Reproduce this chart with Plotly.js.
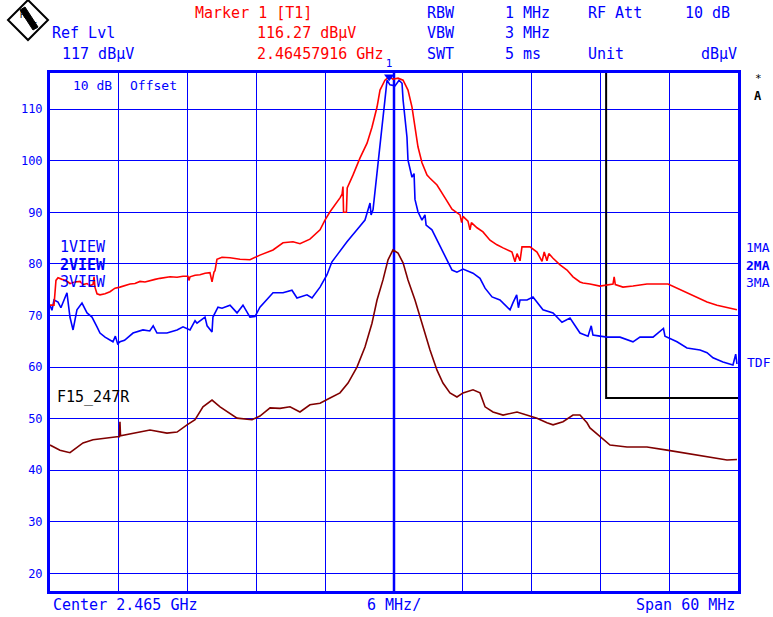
<!DOCTYPE html>
<html><head><meta charset="utf-8">
<script src="https://cdn.plot.ly/plotly-3.0.1.min.js"></script>
<style>html,body{margin:0;padding:0;background:#fff;}#chart{width:773px;height:617px;}</style>
</head><body><div id="chart"></div>
<script>
// ---- data (frequency in MHz, level in dBµV) ----
const centerFreq = 2465;
const spanMHz = 60;
const refLevel = 117;
const yTickValues = [20,30,40,50,60,70,80,90,100,110];

const trace1Freq = [2435.00,2435.35,2435.52,2435.70,2436.05,2436.40,2436.74,2437.18,2437.62,2437.88,2438.23,2438.49,2438.75,2438.84,2438.92,2439.10,2439.36,2439.80,2440.23,2440.67,2441.10,2441.54,2441.98,2442.41,2442.85,2443.28,2443.72,2444.16,2444.59,2445.03,2445.47,2446.08,2446.60,2447.03,2447.12,2447.21,2447.65,2448.08,2448.52,2448.95,2449.13,2449.30,2449.39,2449.56,2450.00,2450.70,2451.57,2452.44,2453.31,2454.45,2455.32,2456.19,2456.80,2457.67,2458.55,2458.98,2459.42,2460.29,2460.47,2460.55,2460.60,2460.85,2460.92,2461.42,2462.03,2462.65,2463.08,2463.52,2463.78,2464.21,2464.48,2464.58,2464.91,2465.35,2465.79,2466.22,2466.57,2466.83,2467.09,2467.44,2467.88,2468.14,2468.75,2469.45,2470.06,2470.76,2470.90,2471.02,2471.45,2471.63,2471.75,2472.24,2472.76,2473.37,2473.98,2474.51,2475.29,2475.55,2475.73,2475.99,2476.16,2476.86,2477.47,2477.91,2478.10,2478.34,2478.50,2478.87,2479.48,2480.09,2480.61,2481.22,2481.48,2482.09,2482.96,2484.10,2484.20,2484.30,2484.97,2485.84,2487.06,2488.90,2489.68,2490.55,2491.42,2492.30,2493.17,2494.04,2494.91];
const trace1Level = [72.0,72.0,76.8,77.3,77.0,76.8,76.2,76.5,76.6,76.0,76.2,75.8,76.0,77.5,75.5,74.2,74.0,74.2,74.6,75.3,75.5,75.8,76.1,76.2,76.6,76.5,76.8,77.0,77.2,77.3,77.5,77.4,77.6,77.6,76.8,77.5,77.8,77.9,78.2,78.3,76.5,78.4,78.7,80.9,81.3,81.2,80.9,80.8,81.7,82.7,84.1,84.3,83.9,84.8,86.6,88.5,90.1,92.8,93.5,95.0,90.0,90.0,94.7,97.2,100.5,103.4,106.5,110.4,113.7,115.6,116.2,116.27,115.8,116.0,115.6,113.7,110.4,106.5,102.7,99.6,97.2,96.6,95.3,92.8,90.6,89.5,88.0,89.2,88.3,86.6,88.0,87.0,86.2,84.6,83.7,83.1,82.3,80.4,82.0,80.6,83.3,83.3,82.3,80.5,82.3,80.6,82.0,81.1,79.8,78.8,77.5,76.5,76.3,76.1,75.7,76.1,77.5,76.0,75.5,75.7,76.1,76.1,75.3,74.4,73.6,72.6,72.0,71.5,71.1];

const trace2Freq = [2435.00,2435.17,2435.35,2435.70,2435.95,2436.48,2436.74,2437.01,2437.35,2437.79,2438.23,2438.66,2439.10,2439.36,2439.80,2440.49,2440.70,2440.90,2441.10,2441.50,2442.24,2443.11,2443.70,2444.00,2444.33,2445.20,2446.08,2446.60,2447.21,2447.65,2447.82,2448.52,2448.70,2449.13,2449.21,2449.65,2450.00,2450.70,2451.31,2451.83,2452.44,2452.88,2453.31,2453.92,2454.45,2455.32,2456.10,2456.54,2457.41,2457.85,2458.55,2459.16,2459.59,2460.03,2460.90,2461.77,2462.47,2462.91,2463.00,2463.17,2463.34,2463.60,2463.95,2464.21,2464.39,2464.65,2465.09,2465.44,2465.70,2465.79,2466.13,2466.22,2466.57,2466.75,2466.83,2467.09,2467.44,2467.70,2467.80,2468.31,2468.75,2469.45,2470.06,2470.49,2471.02,2471.89,2472.50,2472.94,2473.55,2474.24,2475.12,2475.38,2475.70,2475.85,2475.99,2476.60,2477.12,2477.99,2478.87,2479.65,2480.35,2481.22,2481.92,2482.20,2482.35,2482.96,2483.58,2484.71,2485.84,2486.45,2487.59,2488.50,2488.63,2489.68,2490.55,2491.69,2492.30,2492.82,2493.69,2494.56,2494.80,2494.91];
const trace2Level = [72.0,71.0,73.0,72.6,71.5,74.4,69.7,67.2,71.1,72.4,70.5,69.7,67.8,66.6,65.8,64.9,66.0,64.5,64.9,65.2,66.6,67.2,67.0,68.0,66.6,66.6,67.2,67.8,67.2,69.0,68.5,69.7,68.0,66.8,69.7,71.6,71.4,72.0,70.5,72.0,69.7,69.8,71.6,73.0,74.4,74.4,74.9,73.4,74.0,73.4,75.5,77.9,80.4,81.7,84.3,86.6,88.5,91.8,89.5,90.5,94.3,100.1,106.5,111.8,115.6,114.7,114.5,115.6,115.0,111.8,104.6,100.1,96.8,97.5,92.5,90.1,88.5,89.5,87.5,86.6,84.6,81.3,78.8,78.4,79.0,78.2,77.2,75.3,73.6,73.0,71.1,72.5,74.0,71.5,73.0,73.0,73.6,71.1,70.5,68.7,69.5,66.6,66.0,68.0,66.2,66.0,65.8,65.8,64.9,65.8,65.8,67.5,66.0,64.9,63.7,63.3,62.8,61.8,61.0,60.4,62.5,60.6];

const trace3Freq = [2435.00,2435.87,2436.74,2437.35,2437.88,2438.75,2439.97,2440.84,2441.05,2441.10,2441.15,2442.24,2443.72,2445.20,2446.08,2446.95,2447.65,2448.34,2449.13,2449.83,2450.70,2451.31,2452.62,2453.31,2454.19,2455.06,2455.93,2456.80,2457.67,2458.55,2459.42,2460.29,2460.99,2461.77,2462.47,2463.08,2463.52,2464.04,2464.48,2464.91,2465.35,2465.79,2466.22,2466.83,2467.44,2468.14,2468.75,2469.27,2469.88,2470.49,2471.02,2471.89,2472.50,2472.94,2473.63,2474.51,2475.73,2476.60,2477.47,2478.34,2478.87,2479.74,2480.61,2481.22,2481.83,2482.09,2482.96,2483.84,2485.32,2487.06,2488.81,2489.94,2491.42,2492.82,2494.04,2494.91];
const trace3Level = [44.9,43.9,43.4,44.5,45.3,45.9,46.3,46.5,46.5,49.4,46.7,47.2,47.8,47.2,47.4,48.8,49.8,52.3,53.6,52.3,51.1,50.1,49.8,50.5,52.1,52.0,52.3,51.3,52.7,53.0,54.0,55.0,56.9,60.0,63.9,68.5,73.0,76.9,80.8,82.7,82.1,80.2,76.9,73.0,68.5,63.3,59.4,56.9,55.0,54.2,55.0,55.6,55.0,52.3,51.3,50.7,51.3,50.7,50.1,49.2,48.8,49.4,50.7,50.7,49.2,48.2,46.5,44.9,44.5,44.5,43.9,43.5,43.0,42.4,42.0,42.1];

const limitFreq = [2483.5, 2483.5, 2495];
const limitLevel = [117, 54, 54];

const markerFreq = [2464.57916];
const markerLevel = [116.27];

// ---- layout helpers (pixel -> paper) ----
const L = 50, R = 738, T = 73, B = 591;
const px = x => (x - L) / (R - L);
const py = y => (B - y) / (B - T);
const MONO = '"DejaVu Sans Mono", monospace';
const BLUE = '#0000ff', RED = '#ff0000';

function txt(text, x, y, color, anchor, size, extra) {
  return Object.assign({
    text: text, xref: 'paper', yref: 'paper', x: px(x), y: py(y),
    xanchor: anchor || 'left', yanchor: 'middle', showarrow: false,
    font: {family: MONO, size: size || 15, color: color}
  }, extra || {});
}

const xMin = centerFreq - spanMHz / 2, xMax = centerFreq + spanMHz / 2;

const data = [
  {x: limitFreq, y: limitLevel, mode: 'lines', line: {color: '#000', width: 2}, hoverinfo: 'skip'},
  {x: trace3Freq, y: trace3Level, mode: 'lines', line: {color: '#800000', width: 1.6}},
  {x: trace2Freq, y: trace2Level, mode: 'lines', line: {color: BLUE, width: 1.6}},
  {x: trace1Freq, y: trace1Level, mode: 'lines', line: {color: RED, width: 1.6}},
  {x: markerFreq, y: markerLevel, mode: 'markers+text', text: ['1'], textposition: 'top center',
   textfont: {family: MONO, size: 11, color: BLUE}, cliponaxis: false,
   marker: {symbol: 'triangle-down', size: 9, color: BLUE}}
];

const layout = {
  width: 773, height: 617, showlegend: false,
  paper_bgcolor: '#fff', plot_bgcolor: '#fff',
  margin: {l: L, r: 773 - R, t: T, b: 617 - B, pad: 0},
  xaxis: {range: [xMin, xMax], tick0: xMin, dtick: spanMHz / 10, showticklabels: false, ticks: '',
    showgrid: true, gridcolor: BLUE, gridwidth: 1, zeroline: false,
    showline: true, mirror: true, linecolor: BLUE, linewidth: 3},
  yaxis: {range: [refLevel - 100.4, refLevel], tickvals: yTickValues, ticks: '',
    tickfont: {family: MONO, size: 12, color: BLUE}, ticklabelstandoff: 2,
    showgrid: true, gridcolor: BLUE, gridwidth: 1, zeroline: false,
    showline: true, mirror: true, linecolor: BLUE, linewidth: 3},
  shapes: [
    {type: 'line', xref: 'x', yref: 'paper', x0: centerFreq, x1: centerFreq, y0: 0, y1: 1,
     line: {color: BLUE, width: 2.5}, layer: 'below'},
    // R&S logo diamond
    {type: 'path', xref: 'paper', yref: 'paper',
     path: `M ${px(8)} ${py(20)} L ${px(28)} ${py(0)} L ${px(48)} ${py(20)} L ${px(28)} ${py(40)} Z`,
     line: {color: '#000', width: 2}, fillcolor: '#fff'},
    {type: 'path', xref: 'paper', yref: 'paper',
     path: `M ${px(20)} ${py(10)} L ${px(25)} ${py(7)} L ${px(38)} ${py(27)} L ${px(33)} ${py(30)} Z`,
     line: {color: '#000', width: 1}, fillcolor: '#000'}
  ],
  annotations: [
    txt('R', 23, 15, '#000', 'center', 9), txt('S', 34, 26, '#000', 'center', 9),
    txt('Marker 1 [T1]', 193, 13, RED),
    txt('116.27 dBµV', 358, 33, RED, 'right'),
    txt('2.46457916 GHz', 385, 54, RED, 'right'),
    txt('Ref Lvl', 50, 33, BLUE),
    txt('117 dBµV', 60, 54, BLUE),
    txt('RBW', 425, 13, BLUE), txt('1 MHz', 503, 13, BLUE),
    txt('RF Att', 586, 13, BLUE), txt('10 dB', 683, 13, BLUE),
    txt('VBW', 425, 33, BLUE), txt('3 MHz', 503, 33, BLUE),
    txt('SWT', 425, 54, BLUE), txt('5 ms', 503, 54, BLUE),
    txt('Unit', 586, 54, BLUE), txt('dBµV', 739, 54, BLUE, 'right'),
    txt('10 dB', 71, 86, BLUE, 'left', 13), txt('Offset', 128, 86, BLUE, 'left', 13),
    txt('1VIEW', 58, 247, BLUE), txt('<b>2VIEW</b>', 58, 265, BLUE), txt('3VIEW', 58, 282, BLUE),
    txt('1MA', 744, 247, BLUE, 'left', 13), txt('<b>2MA</b>', 744, 265, BLUE, 'left', 13), txt('3MA', 744, 282, BLUE, 'left', 13),
    txt('TDF', 745, 362, BLUE, 'left', 13),
    txt('*', 758, 79, '#000', 'center', 11), txt('<b>A</b>', 758, 96, '#000', 'center', 12),
    txt('F15_247R', 55, 397, '#000'),
    txt('Center 2.465 GHz', 51, 605, BLUE),
    txt('6 MHz/', 365, 605, BLUE),
    txt('Span 60 MHz', 737, 605, BLUE, 'right')
  ]
};

Plotly.newPlot('chart', data, layout, {displayModeBar: false, staticPlot: true});
</script></body></html>
